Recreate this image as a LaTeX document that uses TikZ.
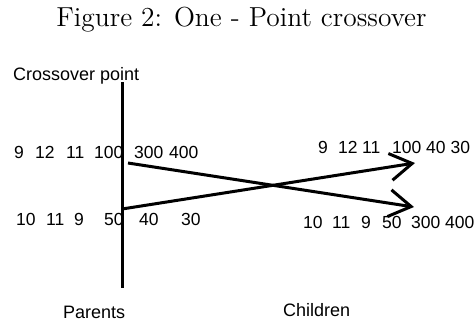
\documentclass[tikz,border=0pt]{standalone}
\usepackage{fontspec}
\newfontfamily\labelfont{Liberation Sans}
\usetikzlibrary{arrows.meta}

\begin{document}
\begin{tikzpicture}[
  x=1pt, y=-1pt,
  gene/.style={font=\labelfont\fontsize{17.5}{20}\selectfont, inner sep=0pt, anchor=base west},
  caption/.style={font=\labelfont\fontsize{18}{21}\selectfont, inner sep=0pt, anchor=base west},
  cut/.style={line width=3pt},
  cross/.style={line width=3pt, -{Straight Barb[length=22pt, width=27pt]}},
]
\useasboundingbox (0,0) rectangle (476,325);

% --- Title ---
\node[inner sep=0pt, anchor=base] (title) at (241.5,26.5)
  {\scalebox{2.29}{\fontsize{12}{14}\selectfont Figure 2: One - Point crossover}};

% --- Crossover point ---
\node[caption] (cp) at (13,80) {Crossover point};
\coordinate (cutTop) at (122,82);
\coordinate (cutBot) at (122,288);
\draw[cut] (cutTop) -- (cutBot);

% --- Parents ---
\foreach \v/\x [count=\i] in {9/14, 12/35, 11/66, 100/94, 300/134, 400/169}
  \node[gene] (pa-\i) at (\x,158.5) {\v};
\foreach \v/\x [count=\i] in {10/16, 11/46, 9/74, 50/104, 40/139, 30/181}
  \node[gene] (pb-\i) at (\x,225) {\v};

% --- Children ---
\foreach \v/\x [count=\i] in {9/318, 12/338, 11/362, 100/392, 40/426, 30/450.5}
  \node[gene] (ca-\i) at (\x,153) {\v};
\foreach \v/\x [count=\i] in {10/303, 11/332, 9/361, 50/382, 300/411, 400/445}
  \node[gene] (cb-\i) at (\x,228) {\v};

% Tails swap across the cut
\coordinate (fromA) at (122,209);
\coordinate (toA) at (415,163);
\coordinate (fromB) at (128,163);
\coordinate (toB) at (414,207);
\draw[cross] (fromA) -- (toA);
\draw[cross] (fromB) -- (toB);

% --- Captions ---
\node[caption] (parents) at (63,318) {Parents};
\node[caption] (children) at (283,316) {Children};
\end{tikzpicture}
\end{document}
